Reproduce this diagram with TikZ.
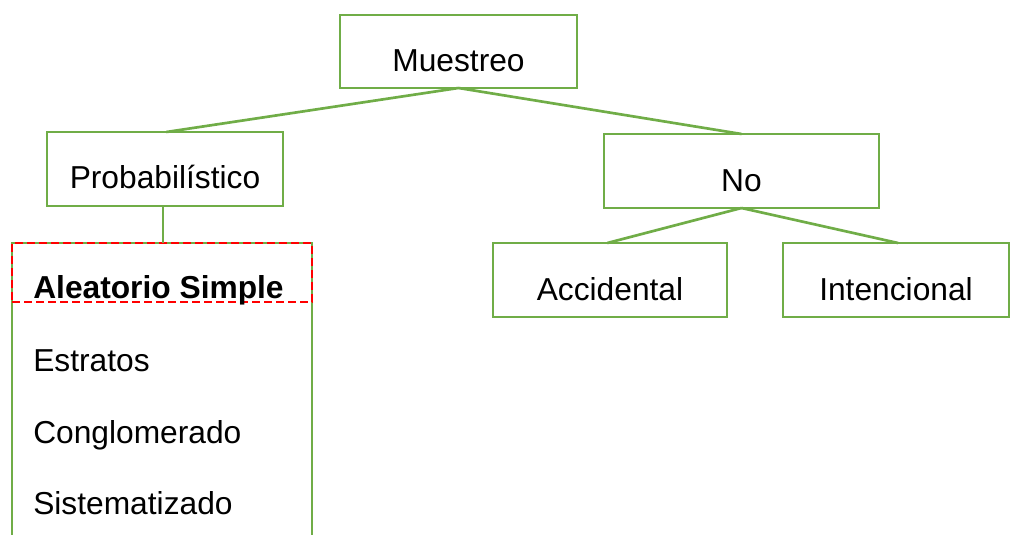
\documentclass[tikz,border=0pt]{standalone}
\usepackage{fontspec}
\setmainfont{Liberation Sans}
\definecolor{offgreen}{HTML}{70AD47}
\definecolor{dashred}{HTML}{FF0000}
\begin{document}
\begin{tikzpicture}[x=0.75pt,y=-0.75pt,
  box/.style={draw=offgreen,line width=2pt,inner sep=0pt,outer sep=0pt,rectangle},
  conn/.style={draw=offgreen,line width=2pt},
  lbl/.style={inner sep=0pt,font=\fontsize{23.8pt}{28pt}\selectfont,text=black},
  redbox/.style={draw=dashred,line width=1.6pt,dash pattern=on 6pt off 3pt,inner sep=0pt,outer sep=0pt,rectangle}]
\path[use as bounding box,clip] (0,0) rectangle (1010,535);
\fill[white] (0,0) rectangle (1010,535);
% boxes
\node[box,minimum width=237*0.75pt,minimum height=73*0.75pt] (M) at (458.5,51.5) {};
\node[box,minimum width=236*0.75pt,minimum height=74*0.75pt] (P) at (165,169) {};
\node[box,minimum width=275*0.75pt,minimum height=74*0.75pt] (N) at (741.5,171) {};
\node[box,minimum width=234*0.75pt,minimum height=74*0.75pt] (A) at (610,280) {};
\node[box,minimum width=226*0.75pt,minimum height=74*0.75pt] (I) at (896,280) {};
\node[box,minimum width=300*0.75pt,minimum height=317*0.75pt] (L) at (162,401.5) {};
\node[redbox,minimum width=300*0.75pt,minimum height=59*0.75pt] (R) at (162,272.5) {};
% labels
\node[lbl,anchor=base] (Mt) at ([yshift=12.5pt]M.south) {Muestreo};
\node[lbl,anchor=base] (Pt) at ([yshift=13.5pt]P.south) {Probabilístico};
\node[lbl,anchor=base] (Nt) at ([yshift=12.5pt]N.south) {No};
\node[lbl,anchor=base] (At) at ([yshift=12.75pt]A.south) {Accidental};
\node[lbl,anchor=base] (It) at ([yshift=12.75pt]I.south) {Intencional};
\node[lbl,anchor=base west,font=\fontsize{23.8pt}{28pt}\selectfont\bfseries] (T1) at (33,298) {Aleatorio Simple};
\node[lbl,anchor=base west] (T2) at (33,371) {Estratos};
\node[lbl,anchor=base west] (T3) at (33,443) {Conglomerado};
\node[lbl,anchor=base west] (T4) at (33,514) {Sistematizado};
% connectors
\draw[conn] (M.south) -- ([xshift=1pt]P.north);
\draw[conn] (M.south) -- (N.north);
\draw[conn] ([xshift=-1.5pt]P.south) -- ([xshift=-1.5pt]P.south |- L.north);
\draw[conn] (N.south) -- ([xshift=-2pt]A.north);
\draw[conn] (N.south) -- ([xshift=1.5pt]I.north);
\end{tikzpicture}
\end{document}
